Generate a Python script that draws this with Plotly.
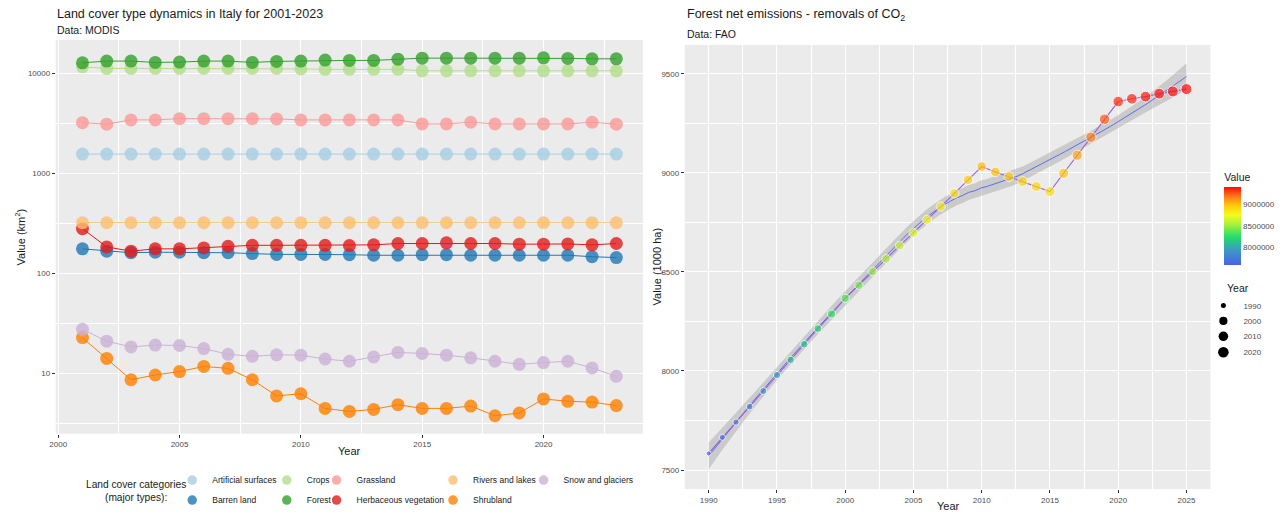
import numpy as np
import plotly.graph_objects as go

# ---------------- Land cover data (km^2), MODIS, Italy ----------------
lc_years = list(range(2001, 2024))

artificial_surfaces = [1555] * 23
barren_land = [176, 167, 161, 163, 163, 161, 161, 158, 155, 155, 155, 154, 152,
               152, 154, 154, 152, 152, 152, 152, 152, 147, 144]
crops = [11550, 11140, 11140, 11140, 11140, 11140, 11140, 11140, 11140, 11000,
         10890, 10890, 10890, 10890, 10540, 10540, 10540, 10540, 10540, 10540,
         10540, 10540, 10540]
forest = [12660, 13170, 13170, 12780, 12870, 13170, 13170, 12780, 13080, 13170,
          13470, 13380, 13380, 13780, 14100, 14100, 14100, 14100, 14100, 14200,
          14010, 13880, 13880]
grassland = [3200, 3090, 3410, 3410, 3510, 3510, 3510, 3510, 3490, 3410, 3410,
             3410, 3410, 3410, 3110, 3110, 3230, 3110, 3110, 3110, 3110, 3230, 3090]
herbaceous_vegetation = [280, 184, 167, 176, 176, 180, 187, 191, 191, 191, 191,
                         190, 193, 199, 199, 202, 199, 199, 196, 196, 197, 193, 199]
rivers_and_lakes = [321] * 23
shrubland = [22.9, 14.2, 8.7, 9.7, 10.5, 11.8, 11.3, 8.7, 6.0, 6.3, 4.5, 4.2,
             4.4, 4.9, 4.5, 4.5, 4.75, 3.8, 4.05, 5.6, 5.3, 5.2, 4.8]
snow_and_glaciers = [27.7, 21.1, 18.5, 19.3, 19.1, 17.8, 15.6, 14.9, 15.4, 15.3,
                     14.0, 13.3, 14.7, 16.3, 15.9, 15.3, 14.4, 13.3, 12.4, 12.9,
                     13.3, 11.4, 9.4]

lc_names = ["Artificial surfaces", "Barren land", "Crops", "Forest", "Grassland",
            "Herbaceous vegetation", "Rivers and lakes", "Shrubland", "Snow and glaciers"]
lc_series = [artificial_surfaces, barren_land, crops, forest, grassland,
             herbaceous_vegetation, rivers_and_lakes, shrubland, snow_and_glaciers]
lc_colors = ["#A6CEE3", "#1F78B4", "#B2DF8A", "#33A02C", "#FB9A99",
             "#E31A1C", "#FDBF6F", "#FF7F00", "#CAB2D6"]

# ---------------- Forest area (1000 ha), FAO ----------------
fao_years = list(range(1990, 2026))
fao_values = [7584, 7665, 7742, 7820, 7899, 7980, 8056, 8135, 8214, 8288, 8367,
              8433, 8502, 8566, 8633, 8697, 8763, 8830, 8897, 8965, 9032, 9005,
              8981, 8956, 8931, 8906, 8998, 9089, 9180, 9271, 9360, 9374, 9385,
              9400, 9411, 9423]
year_legend_breaks = [1990, 2000, 2010, 2020]
value_breaks = [8000000, 8500000, 9000000]

W, H = 1284, 515
FONT = "Liberation Sans, Arial, sans-serif"
TICK_GREY = "#4D4D4D"


def px_x(a, b):
    return [a / W, b / W]


def px_y(top, bottom):
    return [1 - bottom / H, 1 - top / H]


def loess(x, y, x_eval, span=0.75):
    """Local quadratic regression with tricube weights and a 95% band."""
    x = np.asarray(x, float)
    y = np.asarray(y, float)
    n = len(x)
    q = int(np.floor(n * span))

    def weights_row(x0):
        d = np.abs(x - x0)
        h = np.sort(d)[q - 1]
        u = np.clip(d / h, 0, 1)
        w = (1 - u ** 3) ** 3
        X = np.column_stack([np.ones(n), x - x0, (x - x0) ** 2])
        XtW = X.T * w
        return np.linalg.solve(XtW @ X, XtW)[0]

    L = np.array([weights_row(v) for v in x])
    resid = y - L @ y
    M = (np.eye(n) - L).T @ (np.eye(n) - L)
    d1 = np.trace(M)
    d2 = np.trace(M @ M)
    sigma = np.sqrt(resid @ resid / d1)
    df = d1 ** 2 / d2
    Le = np.array([weights_row(v) for v in x_eval])
    fit = Le @ y
    se = sigma * np.sqrt((Le ** 2).sum(axis=1))
    z = 1.959964
    t = z + (z ** 3 + z) / (4 * df) + (5 * z ** 5 + 16 * z ** 3 + 3 * z) / (96 * df ** 2)
    return fit, fit - t * se, fit + t * se


def year_size(yr):
    yr = np.asarray(yr, float)
    return 5 + 6 * np.sqrt((yr - min(fao_years)) / (max(fao_years) - min(fao_years)))


fig = go.Figure()

# ---------------- Left panel: land cover lines ----------------
legend_names = ["legend"] + [f"legend{i}" for i in range(2, 10)]
for name, vals, col in zip(lc_names, lc_series, lc_colors):
    fig.add_trace(go.Scatter(
        x=lc_years, y=vals, name=name, mode="lines+markers",
        line=dict(color=col, width=1),
        marker=dict(color=col, size=13, opacity=0.8),
        showlegend=False, xaxis="x", yaxis="y",
    ))

# legend keys for the categories (one legend box per entry)
for name, col, lg in zip(lc_names, lc_colors, legend_names):
    fig.add_trace(go.Scatter(
        x=[None], y=[None], name=name, mode="markers",
        marker=dict(color=col, size=9.5, opacity=0.8),
        legend=lg, xaxis="x", yaxis="y",
    ))

# ---------------- Right panel: FAO forest series ----------------
x_eval = np.linspace(min(fao_years), max(fao_years), 80)
fit, lo, hi = loess(fao_years, fao_values, x_eval)

fig.add_trace(go.Scatter(
    x=np.concatenate([x_eval, x_eval[::-1]]),
    y=np.concatenate([hi, lo[::-1]]),
    fill="toself", fillcolor="rgba(153,153,153,0.4)", line=dict(width=0),
    mode="lines", showlegend=False, hoverinfo="skip", xaxis="x2", yaxis="y2",
))
fig.add_trace(go.Scatter(
    x=x_eval, y=fit, mode="lines", line=dict(color="#5A6FF0", width=1),
    showlegend=False, xaxis="x2", yaxis="y2",
))
fig.add_trace(go.Scatter(
    x=fao_years, y=fao_values, mode="lines", line=dict(color="#9B5FD8", width=1.1),
    showlegend=False, xaxis="x2", yaxis="y2",
))

value_scale = [
    [0.0, "#4A63E6"], [0.18, "#3D95C8"], [0.36, "#22DD6A"], [0.52, "#A8F03C"],
    [0.64, "#F4FB1E"], [0.76, "#FFCB0A"], [0.88, "#FF7A1A"], [1.0, "#FF0A0A"],
]
fig.add_trace(go.Scatter(
    x=fao_years, y=fao_values, mode="markers", showlegend=False,
    xaxis="x2", yaxis="y2",
    marker=dict(
        size=year_size(fao_years),
        color=np.array(fao_values) * 1000,
        colorscale=value_scale,
        cmin=min(fao_values) * 1000, cmax=max(fao_values) * 1000,
        colorbar=dict(
            title=dict(text="Value", side="top", font=dict(size=10.5, color="#1A1A1A", family=FONT)),
            x=1224 / W, xanchor="left", xpad=0,
            y=1 - 170 / H, yanchor="top", ypad=0,
            len=95, lenmode="pixels", thickness=17, thicknessmode="pixels",
            outlinewidth=0, ticks="",
            tickvals=value_breaks, ticktext=[str(v) for v in value_breaks],
            tickfont=dict(size=8, color=TICK_GREY, family=FONT),
        ),
    ),
))

# Size key for Year (one legend per entry for precise spacing)
year_legends = [f"legend{i}" for i in range(10, 14)]
for yr, sz, lg in zip(year_legend_breaks, year_size(year_legend_breaks), year_legends):
    fig.add_trace(go.Scatter(
        x=[None], y=[None], mode="markers", name=str(yr),
        marker=dict(color="black", size=float(sz)), legend=lg,
        xaxis="x2", yaxis="y2",
    ))

axis_common = dict(
    showline=False, zeroline=False, gridcolor="white", gridwidth=1.1,
    ticks="outside", ticklen=3, tickcolor="#333333", tickwidth=1,
    tickfont=dict(size=8, color=TICK_GREY, family=FONT),
)

layout = dict(
    width=W, height=H, autosize=False,
    margin=dict(l=0, r=0, t=0, b=0),
    paper_bgcolor="white", plot_bgcolor="#EBEBEB",
    font=dict(family=FONT, color="#1A1A1A"),
    xaxis=dict(domain=px_x(50, 640), range=[1999.9, 2024.1],
               tickvals=[2000, 2005, 2010, 2015, 2020], anchor="y",
               minor=dict(tickvals=[2002.5, 2007.5, 2012.5, 2017.5, 2022.5],
                          showgrid=True, gridcolor="white", gridwidth=0.5, ticks=""),
               **axis_common),
    yaxis=dict(domain=px_y(40, 434.5), type="log", range=[0.4012, 4.331],
               tickvals=[10, 100, 1000, 10000], ticktext=["10", "100", "1000", "10000"],
               anchor="x",
               minor=dict(tickvals=[10 ** 0.5, 10 ** 1.5, 10 ** 2.5, 10 ** 3.5],
                          showgrid=True, gridcolor="white", gridwidth=0.5, ticks=""),
               **axis_common),
    xaxis2=dict(domain=px_x(682, 1210), range=[1988.25, 2026.75],
                tickvals=list(range(1990, 2026, 5)), anchor="y2",
                minor=dict(tickvals=[1992.5 + 5 * i for i in range(7)],
                           showgrid=True, gridcolor="white", gridwidth=0.5, ticks=""),
                **axis_common),
    yaxis2=dict(domain=px_y(45, 490), range=[7404, 9646],
                tickvals=[7500, 8000, 8500, 9000, 9500], anchor="x2",
                minor=dict(tickvals=[7750, 8250, 8750, 9250],
                           showgrid=True, gridcolor="white", gridwidth=0.5, ticks=""),
                **axis_common),
    showlegend=True,
)

# Land cover legend: two rows, five columns
legend_text_x = [212, 212, 307, 307, 357, 357, 474, 474, 565]
legend_row_y = [481, 501, 481, 501, 481, 501, 481, 501, 481]
for lg, tx, ty in zip(legend_names, legend_text_x, legend_row_y):
    layout[lg] = dict(
        x=(tx - 45) / W, xanchor="left", y=1 - ty / H, yanchor="middle",
        bgcolor="rgba(0,0,0,0)", borderwidth=0,
        font=dict(size=8.5, color="#1A1A1A", family=FONT),
    )

year_text_y = [306, 321.5, 337, 353]
for lg, ty in zip(year_legends, year_text_y):
    layout[lg] = dict(
        x=(1247 - 44) / W, xanchor="left", y=1 - ty / H, yanchor="middle",
        bgcolor="rgba(0,0,0,0)", borderwidth=0,
        font=dict(size=8, color=TICK_GREY, family=FONT),
    )

fig.update_layout(**layout)


def label(text, x, y, size, xanchor="left", angle=0, color="#1A1A1A"):
    fig.add_annotation(text=text, x=x / W, y=1 - y / H, xref="paper", yref="paper",
                       xanchor=xanchor, yanchor="middle", showarrow=False,
                       textangle=angle, font=dict(size=size, color=color, family=FONT))


label("Land cover type dynamics in Italy for 2001-2023", 49, 14, 12.5)
label("Data: MODIS", 49, 30, 10.5)
label("Forest net emissions - removals of CO<sub>2</sub>", 682, 15, 12.5)
label("Data: FAO", 682, 34, 10.5)
label("Year", 345, 452, 11, xanchor="center")
label("Year", 947, 507, 11, xanchor="center")
label("Value (km<sup>2</sup>)", 14, 237, 11, xanchor="center", angle=-90)
label("Value (1000 ha)", 655, 267, 11, xanchor="center", angle=-90)
label("Land cover categories<br>(major types):", 78, 492, 10.2)
label("Year", 1225, 289, 10.5)

fig.write_html("out.html")
